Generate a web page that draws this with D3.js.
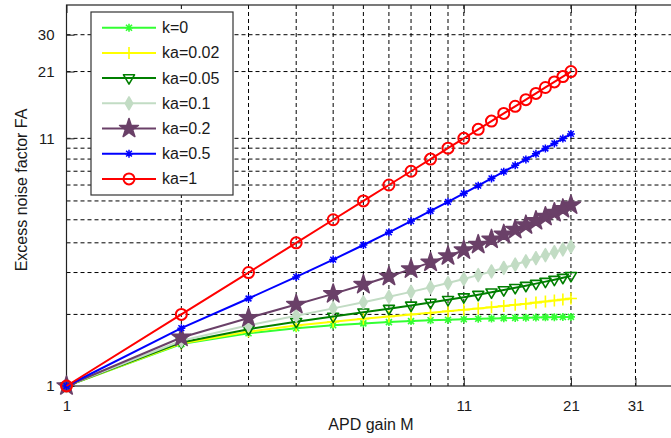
<!DOCTYPE html>
<html><head><meta charset="utf-8">
<script src="https://cdn.jsdelivr.net/npm/d3@7/dist/d3.min.js"></script>
<style>
html,body{margin:0;padding:0;background:#fff;overflow:hidden}
text{font-family:Arial,"Liberation Sans",Helvetica,sans-serif;fill:#1a1a1a}
</style></head>
<body>
<svg id="c" width="671" height="438"></svg>
<script>
// ---------- data ----------
const gainM = [1,2,3,4,5,6,7,8,9,10,11,12,13,14,15,16,17,18,19,20,21];
const legendLabels = ["k=0","ka=0.02","ka=0.05","ka=0.1","ka=0.2","ka=0.5","ka=1"];
const F_k0    = [1,1.5,1.667,1.75,1.8,1.833,1.857,1.875,1.889,1.9,1.909,1.917,1.923,1.929,1.933,1.938,1.941,1.944,1.947,1.95,1.952];
const F_ka002 = [1,1.51,1.693,1.795,1.864,1.917,1.96,1.998,2.031,2.062,2.091,2.118,2.145,2.17,2.195,2.219,2.242,2.266,2.288,2.311,2.333];
const F_ka005 = [1,1.525,1.733,1.863,1.96,2.042,2.114,2.181,2.244,2.305,2.364,2.421,2.477,2.532,2.587,2.641,2.694,2.747,2.8,2.853,2.905];
const F_ka01  = [1,1.55,1.8,1.975,2.12,2.25,2.371,2.488,2.6,2.71,2.818,2.925,3.031,3.136,3.24,3.344,3.447,3.55,3.653,3.755,3.857];
const F_ka02  = [1,1.6,1.933,2.2,2.44,2.667,2.886,3.1,3.311,3.52,3.727,3.933,4.138,4.343,4.547,4.75,4.953,5.156,5.358,5.56,5.762];
const F_ka05  = [1,1.75,2.333,2.875,3.4,3.917,4.429,4.938,5.444,5.95,6.455,6.958,7.462,7.964,8.467,8.969,9.471,9.972,10.474,10.975,11.476];
const F_ka1   = [1,2,3,4,5,6,7,8,9,10,11,12,13,14,15,16,17,18,19,20,21];
const xTickValues = [1,11,21,31];
const xTickLabels = ["1","11","21","31"];
const yTickValues = [1,11,21,30];
const yTickLabels = ["1","11","21","30"];
const xGridValues = [2,3,4,5,6,7,8,9,10,11,21,31];
const yGridValues = [2,3,4,5,6,7,8,9,10,11,21,30];

// ---------- styles ----------
const allSeries = [F_k0,F_ka002,F_ka005,F_ka01,F_ka02,F_ka05,F_ka1];
const colors = ["#33ff33","#ffff00","#007f00","#c2dcc4","#6a4068","#0000ff","#ff0000"];
const markerTypes = ["asterisk","plus","triDown","diamond","star","smallStar","circle"];

const svg = d3.select("#c");
const L=66.5, R=681.8, T=5, B=386;
const x = d3.scaleLog().domain([1,41]).range([L,R]);
const y = d3.scaleLog().domain([1,40]).range([B,T]);

// grid
const g = svg.append("g");
g.selectAll("line.gx").data(xGridValues).enter().append("line")
  .attr("x1",d=>x(d)).attr("x2",d=>x(d)).attr("y1",T).attr("y2",B)
  .attr("stroke","#000").attr("stroke-width",1).attr("stroke-dasharray","4,3");
g.selectAll("line.gy").data(yGridValues).enter().append("line")
  .attr("y1",d=>y(d)).attr("y2",d=>y(d)).attr("x1",L).attr("x2",R)
  .attr("stroke","#000").attr("stroke-width",1).attr("stroke-dasharray","4,3");

// axes box
svg.append("rect").attr("x",L).attr("y",T).attr("width",R-L).attr("height",B-T)
  .attr("fill","none").attr("stroke","#222").attr("stroke-width",1.2);

// ticks (inside)
const xb = d3.axisBottom(x).tickValues(xTickValues).tickFormat((d,i)=>xTickLabels[i]).tickSizeInner(-8).tickSizeOuter(0).tickPadding(14);
const ax = svg.append("g").attr("transform",`translate(0,${B})`).call(xb);
ax.select(".domain").remove();
ax.selectAll("line").attr("stroke","#222");
ax.selectAll("text").attr("font-size",15).attr("fill","#1a1a1a").attr("font-family","Arial, Liberation Sans, sans-serif");
const xt = d3.axisTop(x).tickValues(xTickValues).tickFormat("").tickSizeInner(-8).tickSizeOuter(0);
const axt = svg.append("g").attr("transform",`translate(0,${T})`).call(xt);
axt.select(".domain").remove(); axt.selectAll("line").attr("stroke","#222");

const yl = d3.axisLeft(y).tickValues(yTickValues).tickFormat((d,i)=>yTickLabels[i]).tickSizeInner(-8).tickSizeOuter(0).tickPadding(12);
const ay = svg.append("g").attr("transform",`translate(${L},0)`).call(yl);
ay.select(".domain").remove();
ay.selectAll("line").attr("stroke","#222");
ay.selectAll("text").attr("font-size",15).attr("fill","#1a1a1a").attr("font-family","Arial, Liberation Sans, sans-serif");

// axis titles
svg.append("text").attr("x",371).attr("y",430).attr("text-anchor","middle").attr("font-size",16).text("APD gain M");
svg.append("text").attr("transform","translate(27,190) rotate(-90)").attr("text-anchor","middle").attr("font-size",16).text("Excess noise factor FA");

// markers
function markerPath(type){
  switch(type){
    case "asterisk": { const r=4; const q=r*0.75;
      return `M${-r},0H${r}M0,${-r}V${r}M${-q},${-q}L${q},${q}M${-q},${q}L${q},${-q}`; }
    case "plus": { const r=6; return `M${-r},0H${r}M0,${-r}V${r}`; }
    case "triDown": { const s=5.5; return `M${-s},${-s*0.6}L${s},${-s*0.6}L0,${s*1.1}Z`; }
    case "diamond": return d3.symbol(d3.symbolDiamond,48)();
    case "star": return d3.symbol(d3.symbolStar,110)();
    case "smallStar": { const r=4; const q=r*0.72;
      return `M${-r},0H${r}M0,${-r}V${r}M${-q},${-q}L${q},${q}M${-q},${q}L${q},${-q}`; }
    case "circle": return d3.symbol(d3.symbolCircle,95)();
  }
}
function markerStyle(sel,type,color){
  const filled = (type==="diamond"||type==="star");
  sel.attr("d",markerPath(type))
    .attr("fill",filled?color:"none")
    .attr("stroke",color)
    .attr("stroke-width",type==="smallStar"?1.5:(type==="circle"?2:1.6))
    .attr("stroke-linejoin","round");
}

const line = d3.line().x((d,i)=>x(gainM[i])).y(d=>y(d));
allSeries.forEach((vals,si)=>{
  const gs = svg.append("g");
  gs.append("path").datum(vals).attr("d",line).attr("fill","none")
    .attr("stroke",colors[si]).attr("stroke-width",2);
  gs.selectAll("path.m").data(vals).enter().append("path").attr("class","m")
    .attr("transform",(d,i)=>`translate(${x(gainM[i])},${y(d)})`)
    .call(markerStyle,markerTypes[si],colors[si]);
});

// legend
const lg = svg.append("g");
lg.append("rect").attr("x",91).attr("y",12).attr("width",142).attr("height",183)
  .attr("fill","#fff").attr("stroke","#333").attr("stroke-width",1.2);
legendLabels.forEach((lab,i)=>{
  const cy = 27.7 + i*25.2;
  lg.append("line").attr("x1",102).attr("x2",156).attr("y1",cy).attr("y2",cy)
    .attr("stroke",colors[i]).attr("stroke-width",2);
  lg.append("path").attr("transform",`translate(129,${cy})`).call(markerStyle,markerTypes[i],colors[i]);
  lg.append("text").attr("x",162).attr("y",cy+5.5).attr("font-size",16).text(lab);
});
</script>
</body></html>
